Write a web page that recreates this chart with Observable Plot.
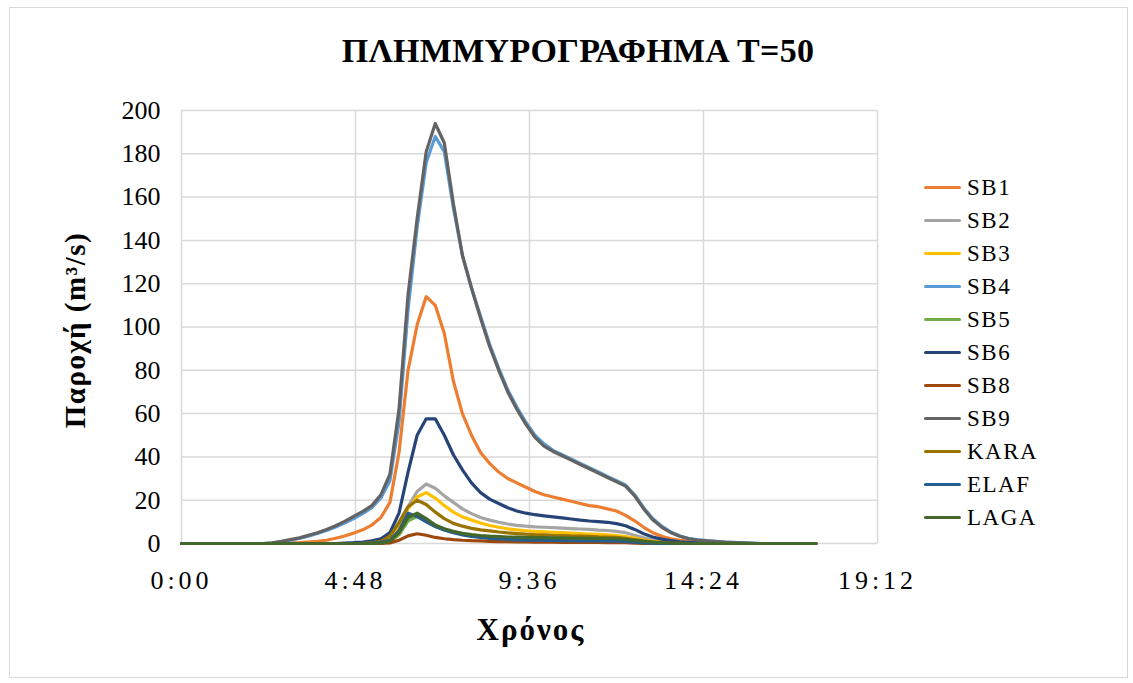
<!DOCTYPE html>
<html><head><meta charset="utf-8">
<script src="https://cdn.jsdelivr.net/npm/d3@7"></script>
<script src="https://cdn.jsdelivr.net/npm/@observablehq/plot@0.6"></script>
<style>
body{margin:0;background:#fff;}
#wrap{position:relative;width:1133px;height:683px;overflow:hidden;font-family:"Liberation Serif","Times New Roman",serif;color:#000;}
#frame{position:absolute;left:9px;top:7px;width:1119px;height:671px;border:1.5px solid #d9d9d9;box-sizing:border-box;}
#title{position:absolute;left:0;top:31px;width:1156px;text-align:center;font-weight:bold;font-size:34px;letter-spacing:0.3px;line-height:40px;}
#chart{position:absolute;left:0;top:0;}
#xlab{position:absolute;left:329px;width:404px;top:611px;text-align:center;font-weight:bold;font-size:31px;letter-spacing:2px;line-height:38px;}
#ylab{position:absolute;left:75px;top:330px;transform:translate(-50%,-50%) rotate(-90deg);white-space:nowrap;font-weight:bold;font-size:29px;letter-spacing:1.5px;}
#legend{position:absolute;left:924px;top:171px;}
.item{height:33px;display:flex;align-items:center;}
.sw{width:37px;height:3.5px;margin-right:6px;border-radius:2px;}
.lab{font-size:23px;letter-spacing:1.5px;}
g[aria-label="x-axis tick label"] text{letter-spacing:4px;}
</style>
</head><body>
<div id="wrap">
  <div id="frame"></div>
  <div id="chart"></div>
  <div id="title">ΠΛΗΜΜΥΡΟΓΡΑΦΗΜΑ T=50</div>
  <div id="xlab">Χρόνος</div>
  <div id="ylab">Παροχή (m³/s)</div>
  <div id="legend"></div>
</div>
<script>
// Time in hours, 15-minute steps from 0:00 to 17:30
const times = d3.range(0, 71).map(i => i / 4);

const seriesNames = ["SB1","SB2","SB3","SB4","SB5","SB6","SB8","SB9","KARA","ELAF","LAGA"];
const seriesColors = ["#ED7D31","#A5A5A5","#FFC000","#5B9BD5","#70AD47","#264478","#9E480E","#636363","#997300","#255E91","#43682B"];

// Discharge values (m3/s), 4 values per hour
const SB1 = [0,0,0,0, 0,0,0,0, 0,0,0,0, 0.2,0.4,0.7,1.0, 1.5,2.4,3.5,4.8, 6.3,8.5,12,19,
  42,80,101,114, 110,97,75,60, 50,42,37,33, 30,28,26,24, 22.5,21.5,20.5,19.5, 18.5,17.5,17,16,
  15,13,10.5,7.5, 5,3.3,2.2,1.5, 1.0,0.6,0.4,0.2, 0.1,0,0,0, 0,0,0,0, 0,0,0];
const SB2 = [0,0,0,0, 0,0,0,0, 0,0,0,0, 0,0,0,0, 0,0,0,0, 0.1,0.3,1,3,
  10,17,24,27.5, 25.5,22,19,16, 13.8,12,10.8,9.8, 9,8.4,8,7.7, 7.5,7.3,7.1,6.9, 6.7,6.5,6.2,6.0,
  5.6,5,3.8,2.6, 1.6,1,0.6,0.3, 0.1,0,0,0, 0,0,0,0, 0,0,0,0, 0,0,0];
const SB3 = [0,0,0,0, 0,0,0,0, 0,0,0,0, 0,0,0,0, 0,0,0,0, 0.1,0.3,0.8,2.5,
  8,16,21.5,23.5, 21,17.5,14.5,12.3, 10.8,9.5,8.3,7.5, 6.8,6.3,5.9,5.6, 5.4,5.2,5.0,4.8, 4.6,4.4,4.2,4.0,
  3.7,3.2,2.5,1.6, 1.0,0.6,0.3,0.1, 0,0,0,0, 0,0,0,0, 0,0,0,0, 0,0,0];
const SB4 = [0,0,0,0, 0,0,0,0, 0,0,0.2,0.8, 1.5,2.3,3.4,4.6, 6.0,7.6,9.5,11.5, 13.8,16.5,21,29,
  56,108,146,176, 188,181,155,133, 118,105,92,81, 71,63,56,50, 46,43,41,39, 37,35,33,31,
  29,27,22.5,16.5, 11.5,8,5.3,3.5, 2.3,1.7,1.3,1.0, 0.7,0.5,0.3,0.15, 0,0,0,0, 0,0,0];
const SB5 = [0,0,0,0, 0,0,0,0, 0,0,0,0, 0,0,0,0, 0,0,0,0, 0,0.1,0.3,0.8,
  4,10.5,12.5,10.5, 8,6.3,5.2,4.4, 3.8,3.4,3.1,2.9, 2.7,2.6,2.5,2.4, 2.3,2.3,2.2,2.2, 2.1,2.1,2.0,2.0,
  1.9,1.7,1.3,0.9, 0.5,0.3,0.1,0, 0,0,0,0, 0,0,0,0, 0,0,0,0, 0,0,0];
const SB6 = [0,0,0,0, 0,0,0,0, 0,0,0,0, 0,0,0,0, 0,0,0.2,0.4, 0.7,1.2,2.2,5,
  14,33,50,57.6, 57.6,50,41,34, 28,23.5,20.5,18.5, 16.5,15,14,13.3, 12.8,12.3,11.8,11.3, 10.8,10.4,10.1,9.8,
  9.2,8.2,6.5,4.5, 3.0,2.0,1.3,0.8, 0.5,0.3,0.1,0, 0,0,0,0, 0,0,0,0, 0,0,0];
const SB8 = [0,0,0,0, 0,0,0,0, 0,0,0,0, 0,0,0,0, 0,0,0,0, 0,0,0.1,0.3,
  1.5,3.5,4.5,3.8, 2.8,2.2,1.8,1.5, 1.3,1.2,1.0,0.9, 0.8,0.75,0.7,0.65, 0.6,0.6,0.55,0.55, 0.5,0.5,0.5,0.45,
  0.4,0.35,0.2,0.1, 0,0,0,0, 0,0,0,0, 0,0,0,0, 0,0,0,0, 0,0,0];
const SB9 = [0,0,0,0, 0,0,0,0, 0,0,0.3,1.0, 1.8,2.6,3.8,5.0, 6.5,8.2,10.2,12.5, 14.8,17.5,22.5,32,
  62,115,150,181, 194,185,157,133, 118,104,91,80, 70,62,55,49, 45,42.5,40.5,38.5, 36.5,34.5,32.5,30.5,
  28.5,26.5,22,16, 11,7.5,5,3.3, 2.2,1.6,1.2,0.9, 0.6,0.4,0.25,0.1, 0,0,0,0, 0,0,0];
const KARA = [0,0,0,0, 0,0,0,0, 0,0,0,0, 0,0,0,0, 0,0,0,0, 0.1,0.4,1,3.5,
  9.5,17,20,18, 14.5,11.5,9.3,8, 7,6.3,5.8,5.3, 4.9,4.6,4.3,4.1, 4.0,3.8,3.7,3.5, 3.4,3.3,3.1,3.0,
  2.8,2.4,1.8,1.2, 0.7,0.4,0.2,0.1, 0,0,0,0, 0,0,0,0, 0,0,0,0, 0,0,0];
const ELAF = [0,0,0,0, 0,0,0,0, 0,0,0,0, 0,0,0,0, 0,0,0,0, 0.1,0.2,0.5,1.5,
  6,14,12.5,10, 7.8,6.2,5,4, 3.3,2.8,2.4,2.1, 1.9,1.7,1.6,1.5, 1.4,1.4,1.3,1.3, 1.2,1.2,1.2,1.1,
  1.1,0.9,0.6,0.4, 0.2,0.1,0,0, 0,0,0,0, 0,0,0,0, 0,0,0,0, 0,0,0];
const LAGA = [0,0,0,0, 0,0,0,0, 0,0,0,0, 0,0,0,0, 0,0,0,0, 0,0.1,0.3,1,
  5,12,14,11.5, 8.5,6.8,5.6,4.7, 4.1,3.7,3.4,3.2, 3.0,2.9,2.8,2.7, 2.7,2.6,2.6,2.5, 2.5,2.4,2.4,2.3,
  2.2,1.9,1.5,1.0, 0.7,0.4,0.2,0.1, 0,0,0,0, 0,0,0,0, 0,0,0,0, 0,0,0];

const xTicks = [0, 4.8, 9.6, 14.4, 19.2];
const xTickLabels = ["0:00","4:48","9:36","14:24","19:12"];
const yTicks = [0,20,40,60,80,100,120,140,160,180,200];

const seriesValues = [SB1,SB2,SB3,SB4,SB5,SB6,SB8,SB9,KARA,ELAF,LAGA];
const rows = [];
seriesNames.forEach((name, k) => {
  seriesValues[k].forEach((v, i) => rows.push({s: name, t: times[i], v}));
});

const chart = Plot.plot({
  width: 900,
  height: 620,
  marginLeft: 181,
  marginRight: 23,
  marginTop: 110,
  marginBottom: 77,
  style: {fontFamily: '"Liberation Serif","Times New Roman",serif', color: "#000", background: "transparent", overflow: "visible"},
  x: {domain: [0, 19.2]},
  y: {domain: [0, 200]},
  color: {domain: seriesNames, range: seriesColors},
  marks: [
    Plot.gridX(xTicks, {stroke: "#d9d9d9", strokeOpacity: 1, strokeWidth: 1.5}),
    Plot.gridY(yTicks, {stroke: "#d9d9d9", strokeOpacity: 1, strokeWidth: 1.5}),
    Plot.axisX(xTicks, {tickSize: 0, tickPadding: 27, fontSize: 26, label: null,
      tickFormat: d => xTickLabels[xTicks.indexOf(d)]}),
    Plot.axisY(yTicks, {tickSize: 0, tickPadding: 21, fontSize: 26, label: null}),
    Plot.line(rows, {x: "t", y: "v", z: "s", stroke: "s", strokeWidth: 3.2, strokeLinejoin: "round", strokeLinecap: "round"})
  ]
});
document.getElementById("chart").appendChild(chart);

const legend = document.getElementById("legend");
seriesNames.forEach((name, k) => {
  const it = document.createElement("div");
  it.className = "item";
  it.innerHTML = `<span class="sw" style="background:${seriesColors[k]}"></span><span class="lab">${name}</span>`;
  legend.appendChild(it);
});
</script>
</body></html>
